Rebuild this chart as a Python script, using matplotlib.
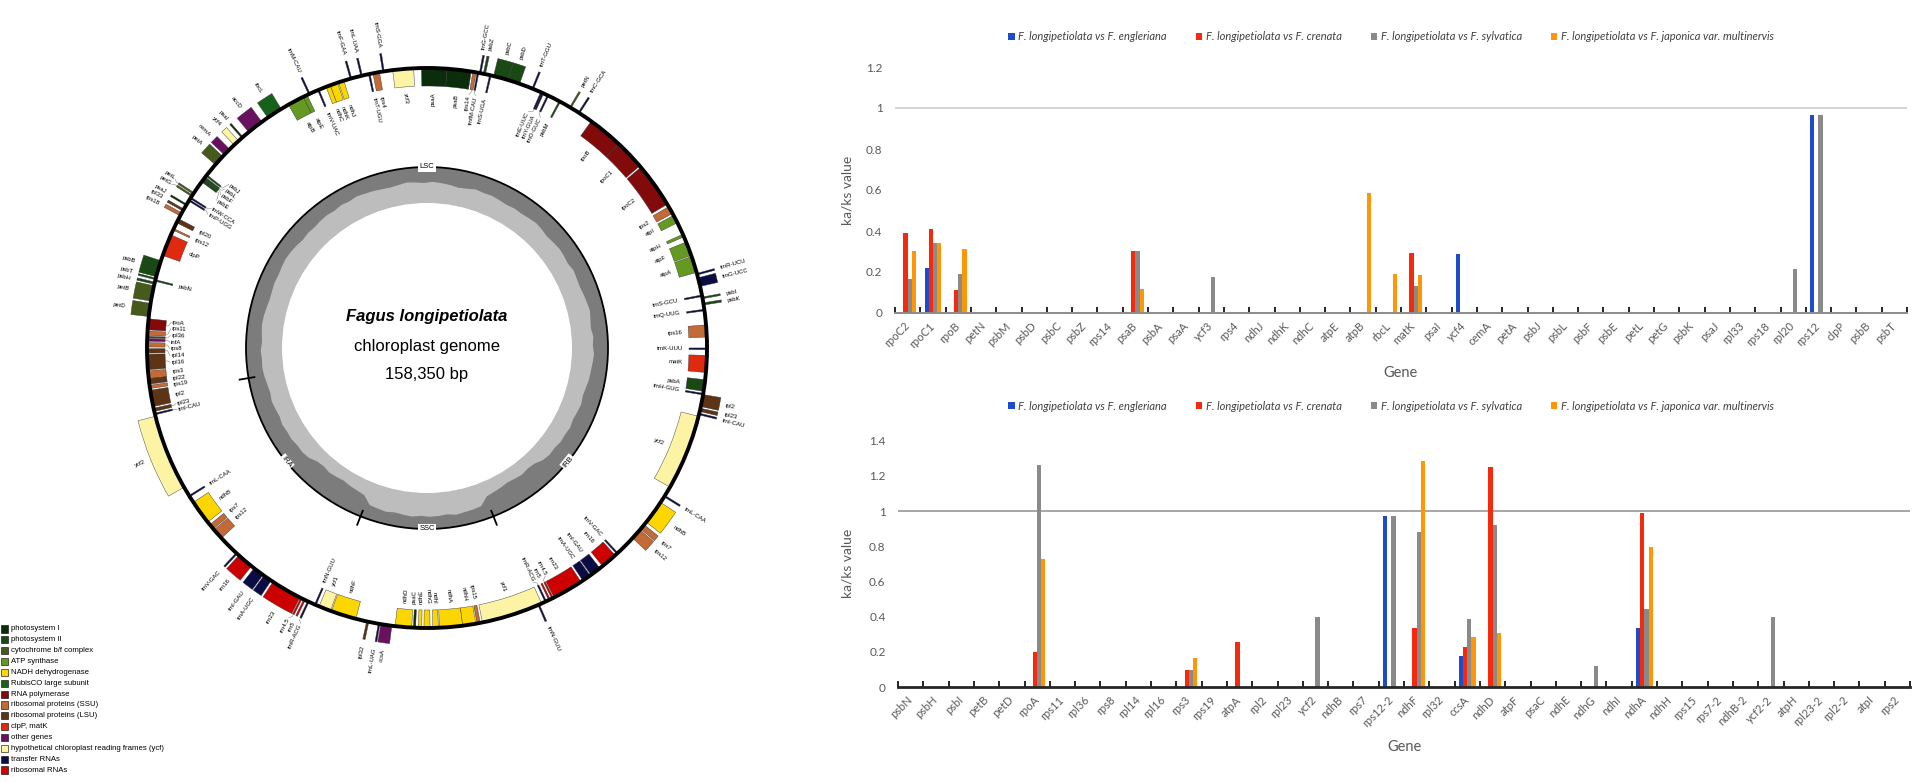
import numpy as np
import matplotlib
matplotlib.use('Agg')
import matplotlib.pyplot as plt
from matplotlib.patches import Wedge, Circle, Rectangle, Polygon
from matplotlib.font_manager import FontProperties

# ---------------- genome map data (positions in kb) ----------------
genome_len = 158.350
region_names = ['LSC', 'IRA', 'SSC', 'IRB']
region_lens = [87.6, 25.9, 18.95, 25.9]

# (name, start, end, strand: 1 = drawn outside, -1 = inside, functional group)
lsc_genes = [
    ('trnH-GUG', 0.0, 0.08, -1, 'trn'), ('psbA', 0.3, 1.35, -1, 'psII'),
    ('trnK-UUU', 4.1, 4.18, -1, 'trn'), ('matK', 2.0, 3.55, -1, 'clp'),
    ('rps16', 5.2, 6.3, -1, 'rps'), ('trnQ-UUG', 7.6, 7.68, -1, 'trn'),
    ('psbK', 8.1, 8.3, 1, 'psII'), ('psbI', 8.7, 8.8, 1, 'psII'),
    ('trnS-GCU', 8.9, 8.99, -1, 'trn'), ('trnG-UCC', 9.8, 10.6, 1, 'trn'),
    ('trnR-UCU', 10.9, 10.97, 1, 'trn'), ('atpA', 11.1, 12.6, -1, 'atp'),
    ('atpF', 12.7, 14.0, -1, 'atp'), ('atpH', 14.5, 14.75, -1, 'atp'),
    ('atpI', 15.9, 16.65, -1, 'atp'), ('rps2', 16.85, 17.55, -1, 'rps'),
    ('rpoC2', 17.8, 21.9, -1, 'rpo'), ('rpoC1', 22.05, 24.8, -1, 'rpo'),
    ('rpoB', 24.8, 28.0, -1, 'rpo'), ('trnC-GCA', 29.3, 29.38, 1, 'trn'),
    ('petN', 30.2, 30.3, 1, 'cyt'), ('psbM', 31.3, 31.4, -1, 'psII'),
    ('trnD-GUC', 32.5, 32.58, -1, 'trn'), ('trnY-GUA', 33.0, 33.08, -1, 'trn'),
    ('trnE-UUC', 33.15, 33.22, -1, 'trn'), ('trnT-GGU', 34.0, 34.08, 1, 'trn'),
    ('psbD', 35.3, 36.4, 1, 'psII'), ('psbC', 36.4, 37.75, 1, 'psII'),
    ('trnS-UGA', 38.0, 38.09, -1, 'trn'), ('psbZ', 38.5, 38.7, 1, 'psII'),
    ('trnG-GCC', 38.95, 39.02, 1, 'trn'), ('trnfM-CAU', 39.15, 39.22, -1, 'trn'),
    ('rps14', 39.35, 39.65, -1, 'rps'), ('psaB', 39.8, 42.0, -1, 'psI'),
    ('psaA', 42.0, 44.3, -1, 'psI'), ('ycf3', 45.0, 46.9, -1, 'ycf'),
    ('trnS-GGA', 47.7, 47.78, 1, 'trn'), ('rps4', 48.1, 48.7, -1, 'rps'),
    ('trnT-UGU', 49.0, 49.07, -1, 'trn'), ('trnL-UAA', 49.7, 49.78, 1, 'trn'),
    ('trnF-GAA', 50.7, 50.77, 1, 'trn'), ('ndhJ', 51.4, 51.9, -1, 'ndh'),
    ('ndhK', 52.0, 52.7, -1, 'ndh'), ('ndhC', 52.7, 53.1, -1, 'ndh'),
    ('trnV-UAC', 53.8, 53.88, -1, 'trn'), ('trnM-CAU', 54.7, 54.77, 1, 'trn'),
    ('atpE', 54.95, 55.35, -1, 'atp'), ('atpB', 55.35, 56.85, -1, 'atp'),
    ('rbcL', 57.6, 59.05, 1, 'rbc'), ('accD', 59.7, 61.2, 1, 'oth'),
    ('psaI', 61.9, 62.0, 1, 'psI'), ('ycf4', 62.4, 62.95, 1, 'ycf'),
    ('cemA', 63.5, 64.2, 1, 'oth'), ('petA', 64.4, 65.4, 1, 'cyt'),
    ('psbJ', 66.6, 66.72, -1, 'psII'), ('psbL', 66.85, 66.97, -1, 'psII'),
    ('psbF', 67.0, 67.12, -1, 'psII'), ('psbE', 67.13, 67.38, -1, 'psII'),
    ('petL', 68.6, 68.7, 1, 'cyt'), ('petG', 68.85, 68.95, 1, 'cyt'),
    ('trnW-CCA', 69.1, 69.17, -1, 'trn'), ('trnP-UGG', 69.35, 69.42, -1, 'trn'),
    ('psaJ', 69.8, 69.93, 1, 'psI'), ('rpl33', 70.3, 70.5, 1, 'rpl'),
    ('rps18', 70.7, 71.0, 1, 'rps'), ('rpl20', 71.3, 71.7, -1, 'rpl'),
    ('rps12', 72.3, 72.42, -1, 'rps'), ('clpP', 72.9, 74.9, -1, 'clp'),
    ('psbB', 75.4, 76.9, 1, 'psII'), ('psbT', 77.05, 77.15, 1, 'psII'),
    ('psbN', 77.2, 77.3, -1, 'psII'), ('psbH', 77.4, 77.6, 1, 'psII'),
    ('petB', 77.75, 79.15, 1, 'cyt'), ('petD', 79.35, 80.55, 1, 'cyt'),
    ('rpoA', 80.75, 81.75, -1, 'rpo'), ('rps11', 81.85, 82.25, -1, 'rps'),
    ('rpl36', 82.35, 82.47, -1, 'rpl'), ('infA', 82.55, 82.78, -1, 'oth'),
    ('rps8', 82.9, 83.3, -1, 'rps'), ('rpl14', 83.45, 83.85, -1, 'rpl'),
    ('rpl16', 83.95, 85.35, -1, 'rpl'), ('rps3', 85.45, 86.15, -1, 'rps'),
    ('rpl22', 86.15, 86.65, -1, 'rpl'), ('rps19', 86.75, 87.05, -1, 'rps'),
]
irb_genes = [
    ('rpl2', 87.2, 88.7, -1, 'rpl'), ('rpl23', 88.85, 89.15, -1, 'rpl'),
    ('trnI-CAU', 89.35, 89.42, -1, 'trn'), ('ycf2', 89.6, 96.5, 1, 'ycf'),
    ('trnL-CAA', 97.4, 97.48, -1, 'trn'), ('ndhB', 98.1, 100.3, -1, 'ndh'),
    ('rps7', 100.6, 101.1, -1, 'rps'), ('rps12', 101.2, 102.2, -1, 'rps'),
    ('trnV-GAC', 104.1, 104.18, 1, 'trn'), ('rrn16', 104.4, 105.9, 1, 'rrn'),
    ('trnI-GAU', 106.2, 107.2, 1, 'trn'), ('trnA-UGC', 107.3, 108.1, 1, 'trn'),
    ('rrn23', 108.3, 111.1, 1, 'rrn'), ('rrn4.5', 111.2, 111.3, 1, 'rrn'),
    ('rrn5', 111.5, 111.62, 1, 'rrn'), ('trnR-ACG', 111.9, 111.98, 1, 'trn'),
    ('trnN-GUU', 112.6, 112.67, -1, 'trn'), ('ycf1', 113.0, 114.1, -1, 'ycf'),
]
ssc_genes = [
    ('ndhF', 114.2, 116.5, -1, 'ndh'), ('rpl32', 117.5, 117.7, 1, 'rpl'),
    ('trnL-UAG', 118.6, 118.68, 1, 'trn'), ('ccsA', 118.8, 119.8, 1, 'oth'),
    ('ndhD', 120.1, 121.6, -1, 'ndh'), ('psaC', 121.75, 121.95, -1, 'psI'),
    ('ndhE', 122.2, 122.5, -1, 'ndh'), ('ndhG', 122.7, 123.25, -1, 'ndh'),
    ('ndhI', 123.5, 124.0, -1, 'ndh'), ('ndhA', 124.1, 126.2, -1, 'ndh'),
    ('ndhH', 126.2, 127.4, -1, 'ndh'), ('rps15', 127.5, 127.8, -1, 'rps'),
    ('ycf1', 128.0, 133.6, -1, 'ycf'),
]
ira_genes = [
    ('trnN-GUU', 133.28, 133.35, 1, 'trn'), ('trnR-ACG', 133.97, 134.05, -1, 'trn'),
    ('rrn5', 134.33, 134.45, -1, 'rrn'), ('rrn4.5', 134.65, 134.75, -1, 'rrn'),
    ('rrn23', 134.85, 137.65, -1, 'rrn'), ('trnA-UGC', 137.85, 138.65, -1, 'trn'),
    ('trnI-GAU', 138.75, 139.75, -1, 'trn'), ('rrn16', 140.05, 141.55, -1, 'rrn'),
    ('trnV-GAC', 141.77, 141.85, -1, 'trn'), ('rps12', 143.75, 144.75, 1, 'rps'),
    ('rps7', 144.85, 145.35, 1, 'rps'), ('ndhB', 145.65, 147.85, 1, 'ndh'),
    ('trnL-CAA', 148.47, 148.55, 1, 'trn'), ('ycf2', 149.45, 156.35, -1, 'ycf'),
    ('trnI-CAU', 156.53, 156.6, 1, 'trn'), ('rpl23', 156.8, 157.1, 1, 'rpl'),
    ('rpl2', 157.25, 158.35, 1, 'rpl'),
]

# GC content (%) in 120 equal windows along the genome
gc_content = [
    37, 35, 33, 36, 34, 38, 36, 33, 35, 37, 39, 38, 36, 40, 38, 37, 39, 41, 38, 36,
    38, 40, 39, 41, 39, 37, 38, 36, 40, 42, 39, 37, 35, 38, 36, 34, 37, 39, 38, 36,
    35, 33, 36, 34, 37, 35, 36, 38, 37, 39, 36, 34, 33, 35, 37, 36, 38, 39, 37, 35,
    34, 36, 38, 35, 37, 36,
    38, 41, 43, 40, 42, 44, 41, 43, 42, 45, 44, 47, 55, 57, 54, 56, 58, 55, 53, 50,
    33, 31, 29, 32, 30, 28, 31, 29, 30, 32, 28, 30, 31, 33,
    50, 53, 55, 58, 56, 54, 57, 55, 47, 44, 45, 42, 43, 41, 44, 42, 40, 43, 41, 38,
]

group_keys = ['psI', 'psII', 'cyt', 'atp', 'ndh', 'rbc', 'rpo', 'rps', 'rpl',
              'clp', 'oth', 'ycf', 'trn', 'rrn']
group_labels = ['photosystem I', 'photosystem II', 'cytochrome b/f complex',
                'ATP synthase', 'NADH dehydrogenase', 'RubisCO large subunit',
                'RNA polymerase', 'ribosomal proteins (SSU)', 'ribosomal proteins (LSU)',
                'clpP, matK', 'other genes',
                'hypothetical chloroplast reading frames (ycf)',
                'transfer RNAs', 'ribosomal RNAs']
group_colors = ['#0b2d0b', '#1a4a14', '#465a1c', '#659a22', '#fcd600', '#17621a',
                '#820a0a', '#c26b36', '#5e3416', '#e02a10', '#6a1060', '#fdf3a4',
                '#0c0c45', '#cc0000']

# ---------------- ka/ks data ----------------
series_labels = ['F. longipetiolata vs F. engleriana', 'F. longipetiolata vs F. crenata',
                 'F. longipetiolata vs F. sylvatica',
                 'F. longipetiolata vs F. japonica var. multinervis']
series_colors = ['#1c4bcc', '#f52a0c', '#8a8a8a', '#ff9605']

top_genes = ['rpoC2', 'rpoC1', 'rpoB', 'petN', 'psbM', 'psbD', 'psbC', 'psbZ', 'rps14',
             'psaB', 'psbA', 'psaA', 'ycf3', 'rps4', 'ndhJ', 'ndhK', 'ndhC', 'atpE',
             'atpB', 'rbcL', 'matK', 'psaI', 'ycf4', 'cemA', 'petA', 'psbJ', 'psbL',
             'psbF', 'psbE', 'petL', 'petG', 'psbK', 'psaJ', 'rpl33', 'rps18', 'rpl20',
             'rps12', 'clpP', 'psbB', 'psbT']
top_engleriana = [0, 0.22, 0, 0, 0, 0, 0, 0, 0, 0, 0, 0, 0, 0, 0, 0, 0, 0, 0, 0,
                  0, 0, 0.29, 0, 0, 0, 0, 0, 0, 0, 0, 0, 0, 0, 0, 0, 0.967, 0, 0, 0]
top_crenata = [0.39, 0.41, 0.11, 0, 0, 0, 0, 0, 0, 0.304, 0, 0, 0, 0, 0, 0, 0, 0, 0, 0,
               0.294, 0, 0, 0, 0, 0, 0, 0, 0, 0, 0, 0, 0, 0, 0, 0, 0, 0, 0, 0]
top_sylvatica = [0.165, 0.34, 0.19, 0, 0, 0, 0, 0, 0, 0.304, 0, 0, 0.177, 0, 0, 0, 0, 0,
                 0, 0, 0.133, 0, 0, 0, 0, 0, 0, 0, 0, 0, 0, 0, 0, 0, 0, 0.216, 0.967,
                 0, 0, 0]
top_japonica = [0.30, 0.34, 0.31, 0, 0, 0, 0, 0, 0, 0.116, 0, 0, 0, 0, 0, 0, 0, 0,
                0.584, 0.19, 0.185, 0, 0, 0, 0, 0, 0, 0, 0, 0, 0, 0, 0, 0, 0, 0, 0,
                0, 0, 0]

bottom_genes = ['psbN', 'psbH', 'psbI', 'petB', 'petD', 'rpoA', 'rps11', 'rpl36', 'rps8',
                'rpl14', 'rpl16', 'rps3', 'rps19', 'atpA', 'rpl2', 'rpl23', 'ycf2',
                'ndhB', 'rps7', 'rps12-2', 'ndhF', 'rpl32', 'ccsA', 'ndhD', 'atpF',
                'psaC', 'ndhE', 'ndhG', 'ndhI', 'ndhA', 'ndhH', 'rps15', 'rps7-2',
                'ndhB-2', 'ycf2-2', 'atpH', 'rpl23-2', 'rpl2-2', 'atpI', 'rps2']
bottom_engleriana = [0, 0, 0, 0, 0, 0, 0, 0, 0, 0, 0, 0, 0, 0, 0, 0, 0, 0, 0, 0.972,
                     0, 0, 0.178, 0, 0, 0, 0, 0, 0, 0.333, 0, 0, 0, 0, 0, 0, 0, 0, 0, 0]
bottom_crenata = [0, 0, 0, 0, 0, 0.20, 0, 0, 0, 0, 0, 0.097, 0, 0.253, 0, 0, 0, 0, 0, 0,
                  0.337, 0, 0.225, 1.25, 0, 0, 0, 0, 0, 0.987, 0, 0, 0, 0, 0, 0, 0, 0,
                  0, 0]
bottom_sylvatica = [0, 0, 0, 0, 0, 1.26, 0, 0, 0, 0, 0, 0.097, 0, 0, 0, 0, 0.40, 0, 0,
                    0.972, 0.882, 0, 0.388, 0.92, 0, 0, 0, 0.119, 0, 0.445, 0, 0, 0, 0,
                    0.40, 0, 0, 0, 0, 0]
bottom_japonica = [0, 0, 0, 0, 0, 0.725, 0, 0, 0, 0, 0, 0.167, 0, 0, 0, 0, 0, 0, 0, 0,
                   1.284, 0, 0.282, 0.305, 0, 0, 0, 0, 0, 0.794, 0, 0, 0, 0, 0, 0, 0,
                   0, 0, 0]

W, H = 1922, 782
fig = plt.figure(figsize=(W / 100, H / 100), dpi=100)

# ================= circular genome map =================
axm = fig.add_axes([0, 0, 860 / W, 1])
axm.set_xlim(0, 860)
axm.set_ylim(0, H)
axm.axis('off')

cx, cy = 427, H - 348
R = 280
box = 18
deg_per_kb = 360.0 / genome_len
theta0 = 90 - region_lens[0] / 2 * deg_per_kb   # LSC centred at the top


def ang(p):
    return theta0 + np.asarray(p) * deg_per_kb


def polar(r, th):
    t = np.radians(th)
    return cx + r * np.cos(t), cy + r * np.sin(t)


color_of = dict(zip(group_keys, group_colors))
all_genes = lsc_genes + irb_genes + ssc_genes + ira_genes

# GC ring
r_gc_out, r_gc_in = 181, 145
axm.add_patch(Circle((cx, cy), r_gc_out, fc='#7c7c7c', ec='none', zorder=1))
n = len(gc_content)
gc_th = ang((np.arange(n) + 0.5) * genome_len / n)
gc_r = r_gc_out - np.array(gc_content) / 100.0 * 42
px, py = polar(gc_r, gc_th)
axm.add_patch(Polygon(np.column_stack([px, py]), closed=True, fc='#bdbdbd', ec='none', zorder=2))
axm.add_patch(Circle((cx, cy), r_gc_in, fc='white', ec='none', zorder=3))
axm.add_patch(Circle((cx, cy), r_gc_out, fill=False, ec='black', lw=1.3, zorder=4))

# region boundaries and labels on the inner ring
bounds = np.concatenate([[0], np.cumsum(region_lens)])
for b in bounds[1:-1]:
    th = ang(b)
    x0, y0 = polar(r_gc_out - 6, th)
    x1, y1 = polar(r_gc_out + 9, th)
    axm.plot([x0, x1], [y0, y1], color='black', lw=1.3, zorder=5)
for name, a, b in zip(region_names, bounds[:-1], bounds[1:]):
    th = float(ang((a + b) / 2))
    x, y = polar(r_gc_out, th)
    rot = th - 90 if np.sin(np.radians(th)) > 0 else th + 90
    axm.text(x, y, name, fontsize=5.5, family='Liberation Sans', ha='center', va='center',
             rotation=rot, rotation_mode='anchor', zorder=6,
             bbox=dict(boxstyle='square,pad=0.15', fc='white', ec='none'))

# gene boxes
for name, p1, p2, strand, grp in all_genes:
    t1, t2 = float(ang(p1)), float(ang(p2))
    if t2 - t1 < 0.35:
        m = (t1 + t2) / 2
        t1, t2 = m - 0.175, m + 0.175
    r_edge = R + box if strand > 0 else R
    axm.add_patch(Wedge((cx, cy), r_edge, t1, t2, width=box, fc=color_of[grp],
                        ec='#333333', lw=0.3, zorder=3))
axm.add_patch(Circle((cx, cy), R, fill=False, ec='black', lw=2.8, zorder=4))


def spread(angles, min_sep):
    a = np.array(sorted(angles), dtype=float)
    for _ in range(300):
        moved = False
        for i in range(len(a) - 1):
            d = a[i + 1] - a[i]
            if d < min_sep:
                s = (min_sep - d) / 2 + 1e-4
                a[i] -= s
                a[i + 1] += s
                moved = True
        if not moved:
            break
    return a


for side in (1, -1):
    sel = [g for g in all_genes if g[3] == side]
    mids = [float(ang((g[1] + g[2]) / 2)) for g in sel]
    order = np.argsort(mids)
    r_box = R + box if side > 0 else R - box
    r_lab = r_box + 6 if side > 0 else r_box - 6
    placed = spread(mids, 1.25 if side > 0 else 1.5)
    for k, idx in enumerate(order):
        name = sel[idx][0]
        m, lab = mids[idx], placed[k]
        if abs(lab - m) > 0.3:
            x0, y0 = polar(r_box + side * 0.5, m)
            x1, y1 = polar(r_box + side * 2.5, m)
            x2, y2 = polar(r_lab - side * 1, lab)
            axm.plot([x0, x1, x2], [y0, y1, y2], color='#777777', lw=0.35, zorder=2)
        x, y = polar(r_lab, lab)
        th = ((lab + 180) % 360) - 180
        if -90 <= th <= 90:
            rot = th
            ha = 'left' if side > 0 else 'right'
        else:
            rot = th - 180 if th > 0 else th + 180
            ha = 'right' if side > 0 else 'left'
        axm.text(x, y, name, fontsize=4.3, family='Liberation Sans', rotation=rot,
                 ha=ha, va='center', rotation_mode='anchor', zorder=6)

# centre text
axm.text(cx, H - 317, 'Fagus longipetiolata', fontsize=12, family='Liberation Sans',
         style='italic', weight='bold', ha='center', va='center')
axm.text(cx, H - 346, 'chloroplast genome', fontsize=12, family='Liberation Sans',
         ha='center', va='center')
axm.text(cx, H - 375, '158,350 bp', fontsize=12, family='Liberation Sans',
         ha='center', va='center')

# functional group legend
for i, (lab, col) in enumerate(zip(group_labels, group_colors)):
    y = H - 629 - i * 10.85
    axm.add_patch(Rectangle((0.5, y - 3.6), 7, 7.2, fc=col, ec='black', lw=0.4))
    axm.text(11, y, lab, fontsize=5.6, family='Liberation Sans', va='center', ha='left')

# ================= ka/ks bar charts =================
tick_col = '#595959'
leg_font = FontProperties(family='Lato', style='italic', size=8)


def kaks_chart(left, bottom_px, top_px, genes, series, ymax, axis_col, axis_lw,
               ref_col, gene_y, legend_y):
    ax = fig.add_axes([left / W, (H - bottom_px) / H, 1012 / W, (bottom_px - top_px) / H])
    x = np.arange(len(genes))
    w = 0.165
    for k, (vals, col, lab) in enumerate(zip(series, series_colors, series_labels)):
        ax.bar(x + (k - 1.5) * w, vals, w, color=col, label=lab, zorder=3, linewidth=0)
    ax.axhline(1, color=ref_col, lw=1.4, zorder=2)
    ax.set_xlim(-0.5, len(genes) - 0.5)
    ax.set_ylim(0, ymax)
    yt = np.round(np.arange(0, ymax + 0.01, 0.2), 1)
    ax.set_yticks(yt)
    ax.set_yticklabels(['%g' % v for v in yt], family='Lato', fontsize=8.5, color=tick_col)
    ax.tick_params(axis='y', length=0, pad=9)
    ax.set_xticks(x)
    ax.set_xticklabels(genes, rotation=45, ha='right', va='center', rotation_mode='anchor',
                       family='Lato', fontsize=8, color=tick_col)
    ax.tick_params(axis='x', which='major', length=0, pad=8)
    ax.set_xticks(np.arange(len(genes) + 1) - 0.5, minor=True)
    ax.tick_params(axis='x', which='minor', direction='in', length=4.5, width=1.2,
                   color='black')
    for s in ('left', 'right', 'top'):
        ax.spines[s].set_visible(False)
    ax.spines['bottom'].set_color(axis_col)
    ax.spines['bottom'].set_linewidth(axis_lw)
    ax.spines['bottom'].set_zorder(4)
    ax.set_xlabel('Gene', family='Lato', fontsize=10.5, color=tick_col, va='center')
    ax.xaxis.set_label_coords(0.5, -(gene_y - bottom_px) / (bottom_px - top_px))
    ax.set_ylabel('ka/ks value', family='Lato', fontsize=10, color=tick_col, va='center')
    ax.yaxis.set_label_coords((848 - left) / 1012, 0.5)
    ax.legend(ncol=4, loc='center', frameon=False, prop=leg_font, labelcolor='#404040',
              bbox_to_anchor=((1391 - left) / 1012, (bottom_px - legend_y) / (bottom_px - top_px)),
              handlelength=0.55, handleheight=0.55, handletextpad=0.35, columnspacing=2.6,
              borderaxespad=0)
    return ax


kaks_chart(895, 313, 67, top_genes,
           [top_engleriana, top_crenata, top_sylvatica, top_japonica],
           1.2, '#8c8c8c', 1.4, '#d4d4d4', 373, 37)
kaks_chart(898, 687, 440.6, bottom_genes,
           [bottom_engleriana, bottom_crenata, bottom_sylvatica, bottom_japonica],
           1.4, '#262626', 2.0, '#a6a6a6', 747, 406)

fig.savefig('out.png', dpi=100)
